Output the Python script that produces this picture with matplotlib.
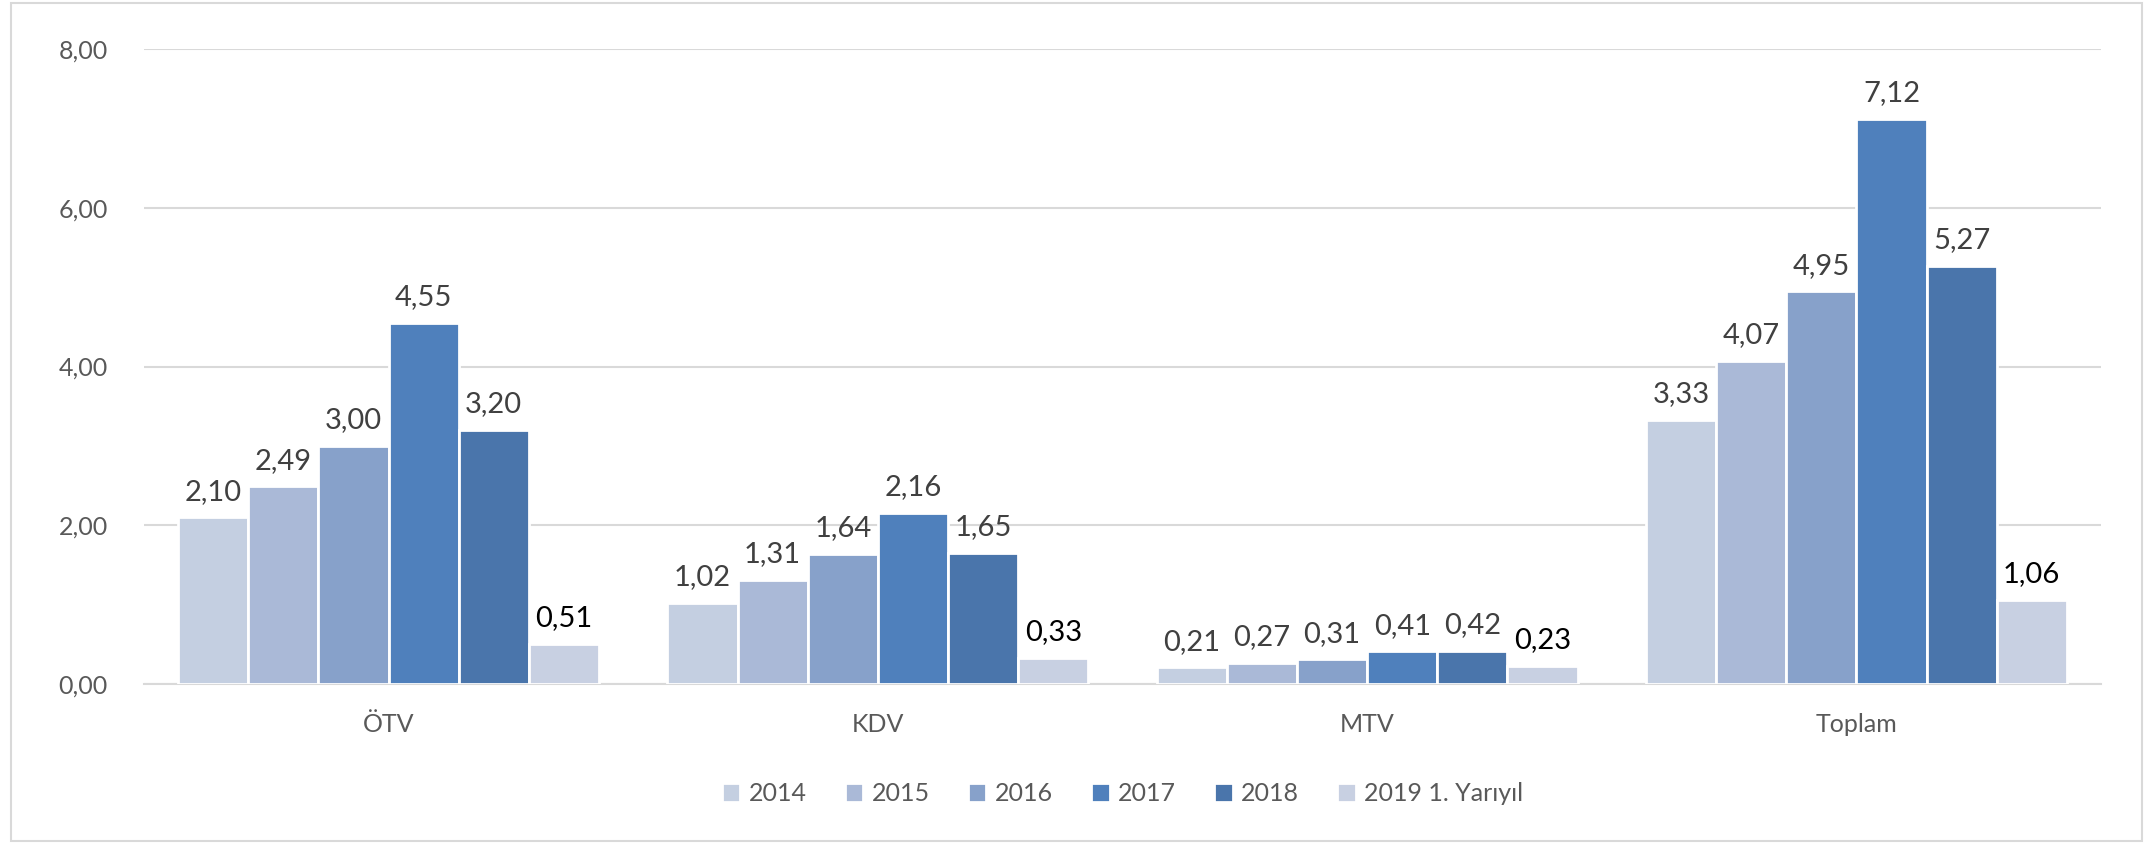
import numpy as np
import matplotlib.pyplot as plt

plt.rcParams['font.family'] = ['Lato', 'DejaVu Sans']

# Data
categories = ['ÖTV', 'KDV', 'MTV', 'Toplam']
series_names = ['2014', '2015', '2016', '2017', '2018', '2019 1. Yarıyıl']
values = {
    '2014': [2.10, 1.02, 0.21, 3.33],
    '2015': [2.49, 1.31, 0.27, 4.07],
    '2016': [3.00, 1.64, 0.31, 4.95],
    '2017': [4.55, 2.16, 0.41, 7.12],
    '2018': [3.20, 1.65, 0.42, 5.27],
    '2019 1. Yarıyıl': [0.51, 0.33, 0.23, 1.06],
}
colors = ['#C4CFE1', '#AAB9D7', '#87A1CA', '#4F80BC', '#4A75AB', '#C8D0E2']
label_colors = ['#404040'] * 5 + ['#000000']

fig = plt.figure(figsize=(21.53, 8.44), dpi=100, facecolor='w')
ax = fig.add_axes([144 / 2153, 1 - 684 / 844, 1957 / 2153, 635 / 844])

x = np.arange(len(categories))
n = len(series_names)
group = 0.86
w = group / n

for i, name in enumerate(series_names):
    pos = x - group / 2 + w * (i + 0.5)
    bars = ax.bar(pos, values[name], w, color=colors[i], edgecolor='white',
                  linewidth=2, label=name, zorder=3)
    for b, v in zip(bars, values[name]):
        ax.annotate(f'{v:.2f}'.replace('.', ','),
                    (b.get_x() + b.get_width() / 2, v),
                    xytext=(0, 9), textcoords='offset points',
                    ha='center', va='bottom', fontsize=21,
                    color=label_colors[i])

ax.set_xlim(-0.5, len(categories) - 0.5)
ax.set_ylim(0, 8)
ax.set_yticks([0, 2, 4, 6, 8])
ax.set_yticklabels([f'{t:.2f}'.replace('.', ',') for t in [0, 2, 4, 6, 8]],
                   fontsize=18, color='#595959')
ax.set_xticks(x)
ax.set_xticklabels(categories, fontsize=18, color='#595959')
ax.tick_params(axis='both', length=0)
ax.tick_params(axis='y', pad=26)
ax.tick_params(axis='x', pad=21)
ax.grid(axis='y', color='#D9D9D9', lw=1.5, zorder=0)
for spine in ('top', 'right', 'left'):
    ax.spines[spine].set_visible(False)
ax.spines['bottom'].set_color('#D9D9D9')
ax.spines['bottom'].set_linewidth(1.5)

leg = ax.legend(loc='center', bbox_to_anchor=(0.5, -0.173), ncol=n,
                frameon=False, fontsize=18, handlelength=0.75, handleheight=0.75,
                handletextpad=0.35, columnspacing=1.5)
for t in leg.get_texts():
    t.set_color('#595959')

# outer border
fig.patches.append(plt.Rectangle((0.005, 0.003), 0.99, 0.994, transform=fig.transFigure,
                                 fill=False, edgecolor='#D9D9D9', lw=1.5))

plt.savefig('out.png', dpi=100)
